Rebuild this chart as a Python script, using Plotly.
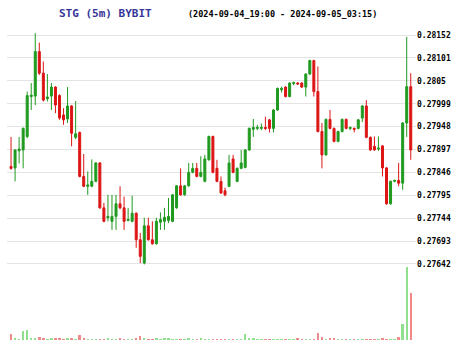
import plotly.graph_objects as go

idx = list(range(100))

opens = [0.27859, 0.27856, 0.27894, 0.27896, 0.27926, 0.28015, 0.28016, 0.28115, 0.28067, 0.28010,
         0.28016, 0.28036, 0.28017, 0.27974, 0.27965, 0.27994, 0.27924, 0.27935, 0.27837, 0.27815,
         0.27815, 0.27826, 0.27867, 0.27767, 0.27745, 0.27737, 0.27748, 0.27776, 0.27767, 0.27739,
         0.27737, 0.27755, 0.27696, 0.27644, 0.27727, 0.27696, 0.27687, 0.27735, 0.27737, 0.27739,
         0.27737, 0.27767, 0.27816, 0.27796, 0.27816, 0.27846, 0.27855, 0.27837, 0.27826, 0.27874,
         0.27926, 0.27855, 0.27826, 0.27805, 0.27815, 0.27876, 0.27826, 0.27855, 0.27857, 0.27896,
         0.27942, 0.27944, 0.27944, 0.27946, 0.27963, 0.27944, 0.27985, 0.28030, 0.28036, 0.28015,
         0.28044, 0.28045, 0.28045, 0.28036, 0.28065, 0.28095, 0.28026, 0.27937, 0.27885, 0.27964,
         0.27944, 0.27915, 0.27937, 0.27964, 0.27944, 0.27944, 0.27944, 0.27967, 0.27994, 0.27924,
         0.27904, 0.27898, 0.27905, 0.27856, 0.27776, 0.27826, 0.27828, 0.27822, 0.27956, 0.28037]
highs = [0.27925, 0.27897, 0.27925, 0.27946, 0.28026, 0.28045, 0.28156, 0.28135, 0.28093, 0.28065,
         0.28045, 0.28038, 0.28020, 0.27989, 0.28036, 0.27996, 0.28005, 0.27937, 0.27887, 0.27848,
         0.27875, 0.27869, 0.27869, 0.27778, 0.27796, 0.27796, 0.27796, 0.27815, 0.27792, 0.27767,
         0.27794, 0.27757, 0.27711, 0.27745, 0.27745, 0.27737, 0.27745, 0.27757, 0.27767, 0.27789,
         0.27798, 0.27818, 0.27855, 0.27818, 0.27867, 0.27867, 0.27867, 0.27882, 0.27885, 0.27928,
         0.27928, 0.27874, 0.27837, 0.27812, 0.27885, 0.27885, 0.27857, 0.27896, 0.27898, 0.27946,
         0.27965, 0.27952, 0.27955, 0.27970, 0.27965, 0.27987, 0.28035, 0.28037, 0.28038, 0.28047,
         0.28048, 0.28047, 0.28047, 0.28067, 0.28097, 0.28097, 0.28082, 0.27956, 0.27966, 0.27985,
         0.27946, 0.27939, 0.27966, 0.27966, 0.27948, 0.27946, 0.27965, 0.27996, 0.28007, 0.27926,
         0.27926, 0.27926, 0.27907, 0.27858, 0.27828, 0.27830, 0.27867, 0.27958, 0.28148, 0.28067]
lows = [0.27852, 0.27826, 0.27866, 0.27855, 0.27922, 0.27985, 0.27996, 0.28063, 0.28004, 0.28004,
        0.27985, 0.27978, 0.27963, 0.27952, 0.27956, 0.27904, 0.27920, 0.27835, 0.27813, 0.27796,
        0.27813, 0.27824, 0.27765, 0.27735, 0.27737, 0.27718, 0.27718, 0.27764, 0.27718, 0.27737,
        0.27735, 0.27678, 0.27644, 0.27641, 0.27694, 0.27685, 0.27685, 0.27718, 0.27718, 0.27733,
        0.27735, 0.27765, 0.27794, 0.27794, 0.27814, 0.27844, 0.27835, 0.27835, 0.27824, 0.27872,
        0.27844, 0.27824, 0.27798, 0.27793, 0.27813, 0.27844, 0.27824, 0.27853, 0.27855, 0.27894,
        0.27925, 0.27940, 0.27940, 0.27940, 0.27935, 0.27935, 0.27983, 0.28024, 0.28013, 0.28013,
        0.28040, 0.28041, 0.28034, 0.28015, 0.28063, 0.28015, 0.27935, 0.27855, 0.27883, 0.27942,
        0.27913, 0.27913, 0.27935, 0.27942, 0.27940, 0.27935, 0.27942, 0.27958, 0.27922, 0.27894,
        0.27894, 0.27894, 0.27837, 0.27774, 0.27774, 0.27824, 0.27815, 0.27807, 0.27925, 0.27874]
closes = [0.27855, 0.27896, 0.27898, 0.27944, 0.28017, 0.28018, 0.28115, 0.28067, 0.28007, 0.28014,
          0.28036, 0.27996, 0.27967, 0.27963, 0.27994, 0.27933, 0.27932, 0.27837, 0.27815, 0.27818,
          0.27826, 0.27867, 0.27767, 0.27737, 0.27748, 0.27748, 0.27776, 0.27767, 0.27737, 0.27741,
          0.27755, 0.27696, 0.27659, 0.27727, 0.27696, 0.27687, 0.27737, 0.27741, 0.27746, 0.27748,
          0.27796, 0.27816, 0.27796, 0.27816, 0.27846, 0.27855, 0.27837, 0.27846, 0.27876, 0.27926,
          0.27846, 0.27826, 0.27800, 0.27796, 0.27867, 0.27846, 0.27855, 0.27867, 0.27896, 0.27944,
          0.27946, 0.27946, 0.27946, 0.27944, 0.27944, 0.27985, 0.28033, 0.28033, 0.28015, 0.28045,
          0.28046, 0.28043, 0.28036, 0.28065, 0.28095, 0.28026, 0.27937, 0.27885, 0.27964, 0.27944,
          0.27915, 0.27937, 0.27964, 0.27944, 0.27946, 0.27942, 0.27963, 0.27994, 0.27924, 0.27896,
          0.27896, 0.27900, 0.27856, 0.27776, 0.27826, 0.27828, 0.27822, 0.27956, 0.28037, 0.27896]

volumes = [57, 13, 10, 90, 100, 23, 20, 30, 17, 10,
           17, 13, 20, 10, 17, 20, 10, 50, 20, 10,
           7, 7, 10, 7, 13, 10, 10, 13, 10, 7,
           10, 13, 40, 13, 10, 10, 13, 10, 13, 20,
           10, 7, 10, 7, 13, 7, 10, 23, 7, 7,
           10, 7, 7, 7, 10, 7, 7, 7, 57, 20,
           23, 10, 7, 10, 10, 7, 7, 10, 10, 7,
           7, 13, 10, 7, 10, 10, 67, 33, 10, 17,
           17, 7, 10, 7, 7, 7, 10, 7, 7, 7,
           10, 7, 17, 10, 7, 7, 27, 160, 733, 467]

tick_vals = [0.27642, 0.27693, 0.27744, 0.27795, 0.27846, 0.27897,
             0.27948, 0.27999, 0.2805, 0.28101, 0.28152]
tick_text = ["0.27642", "0.27693", "0.27744", "0.27795", "0.27846", "0.27897",
             "0.27948", "0.27999", "0.2805", "0.28101", "0.28152"]

title_main = "STG (5m) BYBIT"
title_range = "(2024-09-04_19:00 - 2024-09-05_03:15)"

GREEN = "#1f9a1f"
RED = "#dd1515"
LGREEN = "#8fe08f"
LRED = "#ee8a8a"
MONO = "DejaVu Sans Mono"

fig = go.Figure()
fig.add_trace(go.Candlestick(
    x=idx, open=opens, high=highs, low=lows, close=closes,
    increasing=dict(line=dict(color=GREEN, width=1), fillcolor=GREEN),
    decreasing=dict(line=dict(color=RED, width=1), fillcolor=RED),
    whiskerwidth=0, showlegend=False, hoverinfo="skip",
    xaxis="x", yaxis="y"))

vol_colors = [LGREEN if c >= o else LRED for o, c in zip(opens, closes)]
fig.add_trace(go.Bar(
    x=idx, y=volumes, width=0.6,
    marker=dict(color=vol_colors, line=dict(width=0)),
    showlegend=False, hoverinfo="skip", xaxis="x", yaxis="y2"))

split = (340 - 266) / 315.0

fig.update_layout(
    width=474, height=355,
    margin=dict(l=7, r=58, t=25, b=15),
    paper_bgcolor="white", plot_bgcolor="white",
    bargap=0,
    xaxis=dict(range=[-1, 100.3], visible=False, showgrid=False,
               rangeslider=dict(visible=False), anchor="y2"),
    yaxis=dict(domain=[split, 1], range=[0.276375, 0.281743], side="right",
               anchor="x", tickvals=tick_vals, ticktext=tick_text,
               showgrid=True, gridcolor="#e3e3e3", gridwidth=1,
               zeroline=False, showline=False, ticks="",
               tickfont=dict(family=MONO, size=8, color="black", weight="bold")),
    yaxis2=dict(domain=[0, split], range=[0, 743], visible=False,
                showgrid=False, zeroline=False, anchor="x"),
    annotations=[
        dict(text=title_main, xref="paper", yref="paper",
             x=(105 - 7) / 409.0, y=(340 - 14) / 315.0,
             xanchor="center", yanchor="middle", showarrow=False,
             font=dict(family=MONO, size=11, color="#35359a", weight="bold")),
        dict(text=title_range, xref="paper", yref="paper",
             x=(282 - 7) / 409.0, y=(340 - 14) / 315.0,
             xanchor="center", yanchor="middle", showarrow=False,
             font=dict(family=MONO, size=8.5, color="black", weight="bold")),
    ],
)

fig.write_html("out.html")
